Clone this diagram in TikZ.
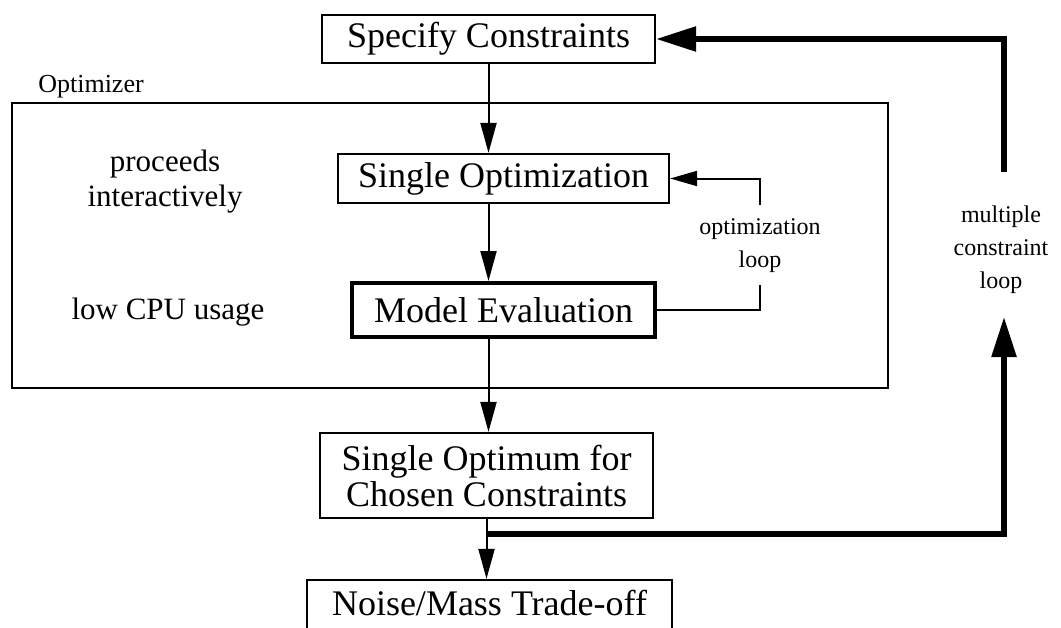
\documentclass[tikz,border=0pt]{standalone}
\usepackage{fontspec}
\setmainfont{Liberation Serif}
\usetikzlibrary{arrows.meta,calc}

\begin{document}
\begin{tikzpicture}[x=1pt,y=-1pt,
  stage/.style={draw, line width=2.2pt, inner sep=0pt, align=center,
    font=\fontsize{36}{36}\selectfont},
  note/.style={align=center, font=\fontsize{31}{35}\selectfont},
  tag/.style={align=center, font=\fontsize{24}{33}\selectfont},
  flow/.style={line width=2pt, -{Triangle[length=30pt,width=16pt]}},
  bigflow/.style={line width=5.5pt, -{Triangle[length=40pt,width=24pt]}}]
  \clip (0,0) rectangle (1061,627);

  % Optimizer frame
  \draw[line width=2.5pt] (12,103) rectangle (888,388);
  \node[tag, font=\fontsize{26}{30}\selectfont] (optlabel) at (91,87) {Optimizer};
  \node[note] (interact) at (165,182) {proceeds\\interactively};
  \node[note] (cpu) at (168,312) {low CPU usage};

  % Stages
  \node[stage, minimum width=333pt, minimum height=48pt] (spec) at (488.5,39) {Specify Constraints};
  \node[stage, minimum width=331pt, minimum height=49pt] (single) at (503.5,178.5) {Single Optimization};
  \node[stage, line width=4pt, minimum width=303pt, minimum height=54pt] (model) at (503.5,310) {Model Evaluation};
  \node[stage, minimum width=333pt, minimum height=85pt] (optimum) at (486.5,475.5) {Single Optimum for\\Chosen Constraints};
  \node[stage, text depth=14pt, minimum width=365pt, minimum height=60pt] (tradeoff) at (489.5,610) {Noise/Mass Trade-off};

  % Main flow
  \draw[flow] (spec.south) -- (spec.south |- single.north);
  \draw[flow] (spec.south |- single.south) -- (spec.south |- model.north);
  \draw[flow] (spec.south |- model.south) -- (spec.south |- optimum.north);
  \draw[flow] (optimum.south) -- (optimum.south |- tradeoff.north);

  % Optimization loop
  \node[tag] (oloop) at (760,246) {optimization\\loop};
  \coordinate (olow) at (760,285);
  \coordinate (ohigh) at (760,205);
  \draw[line width=2pt] (model.east) -| (olow);
  \draw[line width=2pt, -{Triangle[length=27pt,width=15pt]}] (ohigh) |- (single.east);

  % Multiple constraint loop
  \node[tag] (mloop) at (1001,250) {multiple\\constraint\\loop};
  \coordinate (branch) at ($(optimum.south)+(0,15)$);
  \coordinate (mlow) at (1004,317);
  \coordinate (mhigh) at (1004,172);
  \draw[bigflow] (branch) -| (mlow);
  \draw[bigflow] (mhigh) |- (spec.east);
\end{tikzpicture}
\end{document}
